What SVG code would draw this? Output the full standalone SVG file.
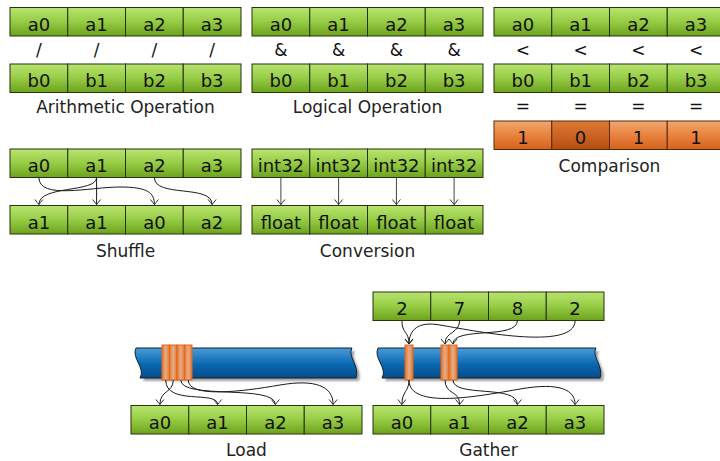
<svg xmlns="http://www.w3.org/2000/svg" width="720" height="461" viewBox="0 0 720 461">
  <defs>
    <linearGradient id="green" x1="0" y1="0" x2="0" y2="1">
      <stop offset="0" stop-color="#b9e470"/>
      <stop offset="0.5" stop-color="#96cc45"/>
      <stop offset="1" stop-color="#6da31c"/>
    </linearGradient>
    <linearGradient id="orange" x1="0" y1="0" x2="0" y2="1">
      <stop offset="0" stop-color="#f2a772"/>
      <stop offset="0.5" stop-color="#e8823e"/>
      <stop offset="1" stop-color="#d4631c"/>
    </linearGradient>
    <linearGradient id="orangeDark" x1="0" y1="0" x2="0" y2="1">
      <stop offset="0" stop-color="#de7a36"/>
      <stop offset="0.5" stop-color="#cc6322"/>
      <stop offset="1" stop-color="#b24e12"/>
    </linearGradient>
    <linearGradient id="blue" x1="0" y1="0" x2="0" y2="1">
      <stop offset="0" stop-color="#4b9bd8"/>
      <stop offset="0.55" stop-color="#0868b2"/>
      <stop offset="1" stop-color="#0a4c88"/>
    </linearGradient>
    <linearGradient id="strip" x1="0" y1="0" x2="1" y2="0">
      <stop offset="0" stop-color="#e8762a"/>
      <stop offset="0.5" stop-color="#e4ad8a"/>
      <stop offset="1" stop-color="#e8762a"/>
    </linearGradient>
    <filter id="shadow" x="-5%" y="-20%" width="110%" height="150%">
      <feGaussianBlur stdDeviation="1.2"/>
    </filter>
    <marker id="arr" viewBox="-6 -5 7 10" markerWidth="7" markerHeight="10" refX="0" refY="0" orient="auto" markerUnits="userSpaceOnUse">
      <path d="M-5,-4 Q-1.5,-1.2 0,0 Q-1.5,1.2 -5,4" fill="none" stroke="#1a1a1a" stroke-width="0.9"/>
    </marker>
    <style>
      .cell { fill: url(#green); stroke: #25330d; stroke-width: 1; }
      .ocell { fill: url(#orange); stroke: #5a2a08; stroke-width: 1; }
      .ocell0 { fill: url(#orangeDark); stroke: #5a2a08; stroke-width: 1; }
      .t { font-family: "DejaVu Sans", "Liberation Sans", sans-serif; font-size: 18px; fill: #111; text-anchor: middle; }
      .lbl { font-family: "DejaVu Sans", "Liberation Sans", sans-serif; font-size: 17px; fill: #222; text-anchor: middle; }
      .op { font-family: "DejaVu Sans", "Liberation Sans", sans-serif; font-size: 17px; fill: #111; text-anchor: middle; }
      .wire { fill: none; stroke: #1a1a1a; stroke-width: 1; marker-end: url(#arr); }
      .wireg { fill: none; stroke: #444; stroke-width: 1; marker-end: url(#arr); }
      .bar { fill: url(#blue); stroke: #0c2233; stroke-width: 1; }
      .barshadow { fill: #555; opacity: 0.55; filter: url(#shadow); }
      .strip { fill: url(#strip); stroke: #e2691c; stroke-width: 1; }
    </style>
  </defs>

  <!-- Arithmetic operation -->
  <g id="arith-a">
    <rect class="cell" x="10" y="7.5" width="57.75" height="28.5"/>
    <rect class="cell" x="67.75" y="7.5" width="57.75" height="28.5"/>
    <rect class="cell" x="125.5" y="7.5" width="57.75" height="28.5"/>
    <rect class="cell" x="183.25" y="7.5" width="57.75" height="28.5"/>
    <text class="t" x="38.9" y="30.5">a0</text>
    <text class="t" x="96.6" y="30.5">a1</text>
    <text class="t" x="154.4" y="30.5">a2</text>
    <text class="t" x="212.1" y="30.5">a3</text>
  </g>
  <g id="arith-op">
    <text class="op" x="38.9" y="56">/</text>
    <text class="op" x="96.6" y="56">/</text>
    <text class="op" x="154.4" y="56">/</text>
    <text class="op" x="212.1" y="56">/</text>
  </g>
  <g id="arith-b">
    <rect class="cell" x="10" y="64" width="57.75" height="28.5"/>
    <rect class="cell" x="67.75" y="64" width="57.75" height="28.5"/>
    <rect class="cell" x="125.5" y="64" width="57.75" height="28.5"/>
    <rect class="cell" x="183.25" y="64" width="57.75" height="28.5"/>
    <text class="t" x="38.9" y="87">b0</text>
    <text class="t" x="96.6" y="87">b1</text>
    <text class="t" x="154.4" y="87">b2</text>
    <text class="t" x="212.1" y="87">b3</text>
  </g>
  <text class="lbl" x="125.5" y="113">Arithmetic Operation</text>

  <!-- Logical operation -->
  <g id="logic-a">
    <rect class="cell" x="252" y="7.5" width="57.75" height="28.5"/>
    <rect class="cell" x="309.75" y="7.5" width="57.75" height="28.5"/>
    <rect class="cell" x="367.5" y="7.5" width="57.75" height="28.5"/>
    <rect class="cell" x="425.25" y="7.5" width="57.75" height="28.5"/>
    <text class="t" x="280.9" y="30.5">a0</text>
    <text class="t" x="338.6" y="30.5">a1</text>
    <text class="t" x="396.4" y="30.5">a2</text>
    <text class="t" x="454.1" y="30.5">a3</text>
  </g>
  <g id="logic-op">
    <text class="op" x="280.9" y="56">&amp;</text>
    <text class="op" x="338.6" y="56">&amp;</text>
    <text class="op" x="396.4" y="56">&amp;</text>
    <text class="op" x="454.1" y="56">&amp;</text>
  </g>
  <g id="logic-b">
    <rect class="cell" x="252" y="64" width="57.75" height="28.5"/>
    <rect class="cell" x="309.75" y="64" width="57.75" height="28.5"/>
    <rect class="cell" x="367.5" y="64" width="57.75" height="28.5"/>
    <rect class="cell" x="425.25" y="64" width="57.75" height="28.5"/>
    <text class="t" x="280.9" y="87">b0</text>
    <text class="t" x="338.6" y="87">b1</text>
    <text class="t" x="396.4" y="87">b2</text>
    <text class="t" x="454.1" y="87">b3</text>
  </g>
  <text class="lbl" x="367.5" y="113">Logical Operation</text>

  <!-- Comparison -->
  <g id="cmp-a">
    <rect class="cell" x="494" y="7.5" width="57.75" height="28.5"/>
    <rect class="cell" x="551.75" y="7.5" width="57.75" height="28.5"/>
    <rect class="cell" x="609.5" y="7.5" width="57.75" height="28.5"/>
    <rect class="cell" x="667.25" y="7.5" width="57.75" height="28.5"/>
    <text class="t" x="522.9" y="30.5">a0</text>
    <text class="t" x="580.6" y="30.5">a1</text>
    <text class="t" x="638.4" y="30.5">a2</text>
    <text class="t" x="696.1" y="30.5">a3</text>
  </g>
  <g id="cmp-op">
    <text class="op" x="522.9" y="56">&lt;</text>
    <text class="op" x="580.6" y="56">&lt;</text>
    <text class="op" x="638.4" y="56">&lt;</text>
    <text class="op" x="696.1" y="56">&lt;</text>
  </g>
  <g id="cmp-b">
    <rect class="cell" x="494" y="64" width="57.75" height="28.5"/>
    <rect class="cell" x="551.75" y="64" width="57.75" height="28.5"/>
    <rect class="cell" x="609.5" y="64" width="57.75" height="28.5"/>
    <rect class="cell" x="667.25" y="64" width="57.75" height="28.5"/>
    <text class="t" x="522.9" y="87">b0</text>
    <text class="t" x="580.6" y="87">b1</text>
    <text class="t" x="638.4" y="87">b2</text>
    <text class="t" x="696.1" y="87">b3</text>
  </g>
  <g id="cmp-eq">
    <text class="op" x="522.9" y="112">=</text>
    <text class="op" x="580.6" y="112">=</text>
    <text class="op" x="638.4" y="112">=</text>
    <text class="op" x="696.1" y="112">=</text>
  </g>
  <g id="cmp-result">
    <rect class="ocell" x="494" y="121" width="57.75" height="28.5"/>
    <rect class="ocell0" x="551.75" y="121" width="57.75" height="28.5"/>
    <rect class="ocell" x="609.5" y="121" width="57.75" height="28.5"/>
    <rect class="ocell" x="667.25" y="121" width="57.75" height="28.5"/>
    <text class="t" x="522.9" y="144">1</text>
    <text class="t" x="580.6" y="144">0</text>
    <text class="t" x="638.4" y="144">1</text>
    <text class="t" x="696.1" y="144">1</text>
  </g>
  <text class="lbl" x="609.5" y="172">Comparison</text>

  <!-- Shuffle -->
  <g id="shuf-in">
    <rect class="cell" x="10" y="149" width="57.75" height="28.5"/>
    <rect class="cell" x="67.75" y="149" width="57.75" height="28.5"/>
    <rect class="cell" x="125.5" y="149" width="57.75" height="28.5"/>
    <rect class="cell" x="183.25" y="149" width="57.75" height="28.5"/>
    <text class="t" x="38.9" y="172">a0</text>
    <text class="t" x="96.6" y="172">a1</text>
    <text class="t" x="154.4" y="172">a2</text>
    <text class="t" x="212.1" y="172">a3</text>
  </g>
  <g id="shuf-out">
    <rect class="cell" x="10" y="205.5" width="57.75" height="28.5"/>
    <rect class="cell" x="67.75" y="205.5" width="57.75" height="28.5"/>
    <rect class="cell" x="125.5" y="205.5" width="57.75" height="28.5"/>
    <rect class="cell" x="183.25" y="205.5" width="57.75" height="28.5"/>
    <text class="t" x="38.9" y="228.5">a1</text>
    <text class="t" x="96.6" y="228.5">a1</text>
    <text class="t" x="154.4" y="228.5">a0</text>
    <text class="t" x="212.1" y="228.5">a2</text>
  </g>
  <text class="lbl" x="125.5" y="257">Shuffle</text>

  <!-- Conversion -->
  <g id="conv-in">
    <rect class="cell" x="252" y="149" width="57.75" height="28.5"/>
    <rect class="cell" x="309.75" y="149" width="57.75" height="28.5"/>
    <rect class="cell" x="367.5" y="149" width="57.75" height="28.5"/>
    <rect class="cell" x="425.25" y="149" width="57.75" height="28.5"/>
    <text class="t" x="280.9" y="172">int32</text>
    <text class="t" x="338.6" y="172">int32</text>
    <text class="t" x="396.4" y="172">int32</text>
    <text class="t" x="454.1" y="172">int32</text>
  </g>
  <g id="conv-out">
    <rect class="cell" x="252" y="205.5" width="57.75" height="28.5"/>
    <rect class="cell" x="309.75" y="205.5" width="57.75" height="28.5"/>
    <rect class="cell" x="367.5" y="205.5" width="57.75" height="28.5"/>
    <rect class="cell" x="425.25" y="205.5" width="57.75" height="28.5"/>
    <text class="t" x="280.9" y="228.5">float</text>
    <text class="t" x="338.6" y="228.5">float</text>
    <text class="t" x="396.4" y="228.5">float</text>
    <text class="t" x="454.1" y="228.5">float</text>
  </g>
  <text class="lbl" x="367.5" y="257">Conversion</text>

  <!-- Load: memory band -->
  <g id="load-mem">
    <path class="barshadow" d="M139,351 L355,351 C350,359 363,369 359,381 L143,381 C149,371 134,361 139,351 Z"/>
    <path class="bar" d="M136,348 L352,348 C347,356 360,366 356,378 L140,378 C146,368 131,358 136,348 Z"/>
    <rect class="strip" x="162" y="345" width="7.5" height="35"/>
    <rect class="strip" x="169.5" y="345" width="7.5" height="35"/>
    <rect class="strip" x="177" y="345" width="7.5" height="35"/>
    <rect class="strip" x="184.5" y="345" width="7.5" height="35"/>
  </g>
  <g id="load-out">
    <rect class="cell" x="131" y="405.5" width="57.75" height="28.5"/>
    <rect class="cell" x="188.75" y="405.5" width="57.75" height="28.5"/>
    <rect class="cell" x="246.5" y="405.5" width="57.75" height="28.5"/>
    <rect class="cell" x="304.25" y="405.5" width="57.75" height="28.5"/>
    <text class="t" x="159.9" y="428.5">a0</text>
    <text class="t" x="217.6" y="428.5">a1</text>
    <text class="t" x="275.4" y="428.5">a2</text>
    <text class="t" x="333.1" y="428.5">a3</text>
  </g>
  <text class="lbl" x="246.5" y="456">Load</text>

  <!-- Gather: indices, memory band, result -->
  <g id="gather-idx">
    <rect class="cell" x="373" y="292" width="57.75" height="28.5"/>
    <rect class="cell" x="430.75" y="292" width="57.75" height="28.5"/>
    <rect class="cell" x="488.5" y="292" width="57.75" height="28.5"/>
    <rect class="cell" x="546.25" y="292" width="57.75" height="28.5"/>
    <text class="t" x="401.9" y="315">2</text>
    <text class="t" x="459.6" y="315">7</text>
    <text class="t" x="517.4" y="315">8</text>
    <text class="t" x="575.1" y="315">2</text>
  </g>
  <g id="gather-mem">
    <path class="barshadow" d="M381,351 L599,351 C594,359 607,369 603,381 L385,381 C391,371 376,361 381,351 Z"/>
    <path class="bar" d="M378,348 L596,348 C591,356 604,366 600,378 L382,378 C388,368 373,358 378,348 Z"/>
    <rect class="strip" x="405" y="345" width="8" height="35"/>
    <rect class="strip" x="441" y="345" width="8" height="35"/>
    <rect class="strip" x="449" y="345" width="8" height="35"/>
  </g>
  <g id="gather-out">
    <rect class="cell" x="373" y="405.5" width="57.75" height="28.5"/>
    <rect class="cell" x="430.75" y="405.5" width="57.75" height="28.5"/>
    <rect class="cell" x="488.5" y="405.5" width="57.75" height="28.5"/>
    <rect class="cell" x="546.25" y="405.5" width="57.75" height="28.5"/>
    <text class="t" x="401.9" y="428.5">a0</text>
    <text class="t" x="459.6" y="428.5">a1</text>
    <text class="t" x="517.4" y="428.5">a2</text>
    <text class="t" x="575.1" y="428.5">a3</text>
  </g>
  <text class="lbl" x="488.5" y="456">Gather</text>

  <!-- Connectors -->
  <g id="connectors">
    <!-- shuffle -->
    <path class="wire" d="M38.9,177.5 C38.9,200 90,187 120,187 C148,187 154.4,193 154.4,204.5"/>
    <path class="wire" d="M96.6,177.5 C96.6,193 38.9,185 38.9,204.5"/>
    <path class="wire" d="M96.6,177.5 L96.6,204.5"/>
    <path class="wire" d="M154.4,177.5 C154.4,198 212.1,184 212.1,204.5"/>
    <!-- conversion -->
    <path class="wireg" d="M280.9,177.5 L280.9,204.5"/>
    <path class="wireg" d="M338.6,177.5 L338.6,204.5"/>
    <path class="wireg" d="M396.4,177.5 L396.4,204.5"/>
    <path class="wireg" d="M454.1,177.5 L454.1,204.5"/>
    <!-- load -->
    <path class="wire" d="M165.75,380 C165.75,406 217.6,390 217.6,404.5"/>
    <path class="wire" d="M173.25,380 C173.25,393 159.9,390 159.9,404.5"/>
    <path class="wire" d="M180.75,380 C180.75,400 275.4,384 275.4,404.5"/>
    <path class="wire" d="M188.25,380 C188.25,398 240,392 280,385 C315,379 333.1,386 333.1,404.5"/>
    <!-- gather: indices to memory -->
    <path class="wire" d="M401.9,320.5 C401.9,334 409,331 409,344"/>
    <path class="wire" d="M459.6,320.5 C459.6,334 445,331 445,344"/>
    <path class="wire" d="M517.4,320.5 C517.4,340 453,326 453,344"/>
    <path class="wire" d="M575.1,320.5 C575.1,352 470,330 440,325 C418,321 409,330 409,344"/>
    <!-- gather: memory to result -->
    <path class="wire" d="M409,380 C409,392 401.9,391 401.9,404.5"/>
    <path class="wire" d="M445,380 C445,395 459.6,390 459.6,404.5"/>
    <path class="wire" d="M453,380 C453,398 517.4,384 517.4,404.5"/>
    <path class="wire" d="M409,380 C409,410 480,396 520,389 C560,382 575.1,390 575.1,404.5"/>
  </g>
</svg>
